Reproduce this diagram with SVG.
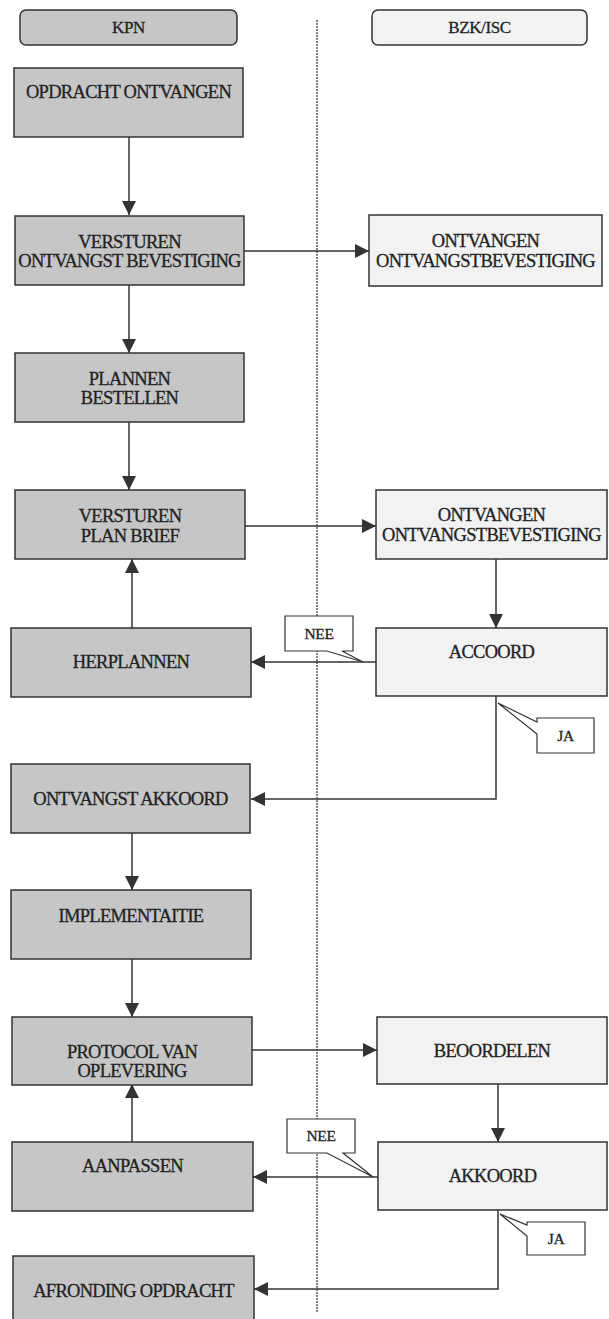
<svg xmlns="http://www.w3.org/2000/svg" width="609" height="1319" viewBox="0 0 609 1319">
<style>
.dark{fill:#c6c6c6;stroke:#333;stroke-width:1.5}
.light{fill:#f2f2f2;stroke:#333;stroke-width:1.5}
.call{fill:#fff;stroke:#333;stroke-width:1.2}
.t{font-family:"Liberation Serif","Times New Roman",serif;font-size:18.5px;letter-spacing:-0.7px;fill:#222;stroke:#222;stroke-width:0.3;text-anchor:middle}
.h{font-size:17px;letter-spacing:-0.4px}
.s{font-size:15.5px;letter-spacing:-0.4px}
.c{fill:none;stroke:#333;stroke-width:1.5}
</style>
<defs>
<marker id="ah" markerUnits="userSpaceOnUse" markerWidth="14" markerHeight="14" refX="14" refY="7" orient="auto">
<path d="M0,0 L14,7 L0,14 z" fill="#333"/>
</marker>
</defs>
<rect width="609" height="1319" fill="#fff"/>
<line x1="317" y1="20" x2="317" y2="1312" stroke="#444" stroke-width="1.3" stroke-dasharray="2,1"/>
<g id="connectors">
<path class="c" d="M129,137 V215" marker-end="url(#ah)"/>
<path class="c" d="M244,251 H369" marker-end="url(#ah)"/>
<path class="c" d="M129,285 V353" marker-end="url(#ah)"/>
<path class="c" d="M129,422 V490" marker-end="url(#ah)"/>
<path class="c" d="M245,526 H376" marker-end="url(#ah)"/>
<path class="c" d="M496,559 V628" marker-end="url(#ah)"/>
<path class="c" d="M376,662 H251" marker-end="url(#ah)"/>
<path class="c" d="M132,628 V559" marker-end="url(#ah)"/>
<path class="c" d="M496,696 V799 H251" marker-end="url(#ah)"/>
<path class="c" d="M132,833 V890" marker-end="url(#ah)"/>
<path class="c" d="M132,959 V1017" marker-end="url(#ah)"/>
<path class="c" d="M252,1050 H377" marker-end="url(#ah)"/>
<path class="c" d="M498,1084 V1142" marker-end="url(#ah)"/>
<path class="c" d="M378,1177 H253" marker-end="url(#ah)"/>
<path class="c" d="M132,1142 V1084" marker-end="url(#ah)"/>
<path class="c" d="M498,1210 V1289 H254" marker-end="url(#ah)"/>
</g>
<g id="kpn"><rect class="dark" x="20" y="10" width="217" height="35" rx="6"/><text class="t h" x="128.5" y="33">KPN</text></g>
<g id="bzk"><rect class="light" x="372" y="10" width="215" height="35" rx="6"/><text class="t h" x="479.5" y="33">BZK/ISC</text></g>
<g id="n1"><rect class="dark" x="14" y="68" width="229" height="69"/><text class="t" x="128.5" y="98">OPDRACHT ONTVANGEN</text></g>
<g id="n2"><rect class="dark" x="15" y="216" width="229" height="69"/><text class="t" x="129.5" y="248">VERSTUREN</text><text class="t" x="129.5" y="267">ONTVANGST BEVESTIGING</text></g>
<g id="n3"><rect class="light" x="369" y="215" width="233" height="71"/><text class="t" x="485.5" y="247">ONTVANGEN</text><text class="t" x="485.5" y="267">ONTVANGSTBEVESTIGING</text></g>
<g id="n4"><rect class="dark" x="15" y="353" width="229" height="69"/><text class="t" x="129.5" y="385">PLANNEN</text><text class="t" x="129.5" y="404">BESTELLEN</text></g>
<g id="n5"><rect class="dark" x="15" y="490" width="230" height="69"/><text class="t" x="130" y="522">VERSTUREN</text><text class="t" x="130" y="542">PLAN BRIEF</text></g>
<g id="n6"><rect class="light" x="376" y="490" width="231" height="69"/><text class="t" x="491.5" y="521">ONTVANGEN</text><text class="t" x="491.5" y="541">ONTVANGSTBEVESTIGING</text></g>
<g id="n7"><rect class="dark" x="11" y="628" width="240" height="69"/><text class="t" x="131" y="668">HERPLANNEN</text></g>
<g id="n8"><rect class="light" x="376" y="628" width="231" height="68"/><text class="t" x="491.5" y="658">ACCOORD</text></g>
<g id="nee1"><path class="call" d="M285,616 H353 V651 H342 L363,662 L327,651 H285 Z"/><text class="t s" x="319" y="639">NEE</text></g>
<g id="ja1"><path class="call" d="M537,718 H594 V753 H537 V734 L498,703 L537,722 Z"/><text class="t s" x="565.5" y="741">JA</text></g>
<g id="n9"><rect class="dark" x="11" y="764" width="239" height="69"/><text class="t" x="130.5" y="805">ONTVANGST AKKOORD</text></g>
<g id="n10"><rect class="dark" x="11" y="890" width="240" height="69"/><text class="t" x="131" y="922">IMPLEMENTAITIE</text></g>
<g id="n11"><rect class="dark" x="12" y="1017" width="240" height="68"/><text class="t" x="132" y="1058">PROTOCOL VAN</text><text class="t" x="132" y="1077">OPLEVERING</text></g>
<g id="n12"><rect class="light" x="377" y="1017" width="230" height="67"/><text class="t" x="492" y="1057">BEOORDELEN</text></g>
<g id="n13"><rect class="dark" x="12" y="1142" width="241" height="69"/><text class="t" x="132.5" y="1172">AANPASSEN</text></g>
<g id="n14"><rect class="light" x="378" y="1142" width="229" height="68"/><text class="t" x="492.5" y="1182">AKKOORD</text></g>
<g id="nee2"><path class="call" d="M287,1119 H355 V1153 H343 L373,1177 L327,1153 H287 Z"/><text class="t s" x="321" y="1141">NEE</text></g>
<g id="ja2"><path class="call" d="M527,1222 H585 V1255 H527 V1236 L500,1214 L527,1225 Z"/><text class="t s" x="556" y="1244">JA</text></g>
<g id="n15"><rect class="dark" x="13" y="1256" width="241" height="68"/><text class="t" x="133.5" y="1297">AFRONDING OPDRACHT</text></g>
</svg>
